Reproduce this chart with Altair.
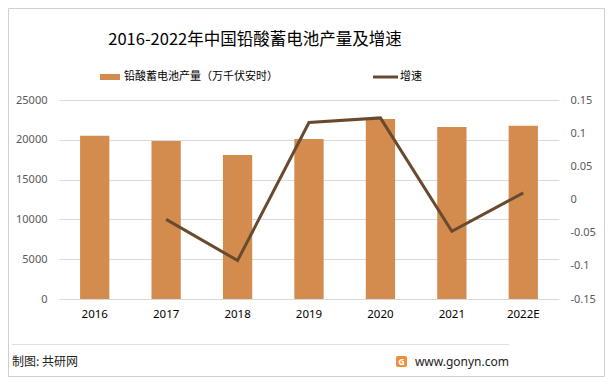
import altair as alt
import pandas as pd

years = ["2016", "2017", "2018", "2019", "2020", "2021", "2022E"]
output = [20500, 19850, 18100, 20100, 22600, 21600, 21750]
growth = [None, -0.03, -0.092, 0.116, 0.123, -0.048, 0.01]
left_ticks = [0, 5000, 10000, 15000, 20000, 25000]
right_ticks = [-0.15, -0.1, -0.05, 0, 0.05, 0.1, 0.15]

title_text = "2016-2022年中国铅酸蓄电池产量及增速"
bar_name = "铅酸蓄电池产量（万千伏安时）"
line_name = "增速"
source_text = "制图: 共研网"
site_text = "www.gonyn.com"

BAR = "#D38B4E"
LINE = "#694A2F"
CJK = "Noto Sans CJK SC"
NUM = "Noto Sans"

df = pd.DataFrame({"year": years, "output": output, "growth": growth})
one = pd.DataFrame({"k": [0]})

x = alt.X(
    "year:N", sort=years,
    scale=alt.Scale(paddingInner=0.59, paddingOuter=0.295),
    axis=alt.Axis(title=None, labelAngle=0, ticks=False, domain=False,
                  labelFontSize=11.5, labelColor="#000000", labelFont=NUM,
                  labelPadding=9),
)

bars = alt.Chart(df).mark_bar(color=BAR).encode(
    x=x,
    y=alt.Y("output:Q", scale=alt.Scale(domain=[0, 25000]),
            axis=alt.Axis(title=None, orient="left", values=left_ticks,
                          grid=True, gridColor="#d9d9d9", ticks=False,
                          domain=False, labelPadding=12, labelFontSize=11,
                          labelColor="#595959", labelFont=NUM,
                          labelExpr="toString(datum.value)")),
)

line = alt.Chart(df).mark_line(color=LINE, strokeWidth=3).encode(
    x=x,
    y=alt.Y("growth:Q", scale=alt.Scale(domain=[-0.15, 0.15]),
            axis=alt.Axis(title=None, orient="right", values=right_ticks,
                          grid=False, ticks=False, domain=False,
                          labelPadding=11, labelFontSize=11,
                          labelColor="#595959", labelFont=NUM,
                          labelExpr="toString(datum.value)")),
)

def txt(text, xv, yv, size, color="#000000", align="left", font=CJK, weight="normal"):
    return alt.Chart(one).mark_text(
        align=align, baseline="middle", fontSize=size, color=color,
        font=font, fontWeight=weight
    ).encode(x=alt.value(xv), y=alt.value(yv), text=alt.value(text))

frame = alt.Chart(one).mark_rect(fill=None, stroke="#d0d0d0", strokeWidth=1).encode(
    x=alt.value(-50.5), x2=alt.value(545.5), y=alt.value(-91.5), y2=alt.value(276.5))

leg_bar = alt.Chart(one).mark_rect(color=BAR).encode(
    x=alt.value(41), x2=alt.value(61), y=alt.value(-26), y2=alt.value(-20))
leg_line = alt.Chart(one).mark_rule(color=LINE, strokeWidth=3).encode(
    x=alt.value(314), x2=alt.value(339), y=alt.value(-23))

foot_rule = alt.Chart(one).mark_rule(color="#e0e0e0", strokeWidth=1).encode(
    x=alt.value(-47), x2=alt.value(450), y=alt.value(244.5))
logo = alt.Chart(one).mark_rect(color="#F08C3A", cornerRadius=2).encode(
    x=alt.value(337), x2=alt.value(348), y=alt.value(256), y2=alt.value(267))

layers = alt.layer(bars, line).resolve_scale(y="independent")

chart = alt.layer(
    frame, layers,
    txt(title_text, 196, -60, 16.5, align="center"),
    leg_bar, txt(bar_name, 65, -23, 11),
    leg_line, txt(line_name, 341, -23, 11),
    foot_rule,
    txt(source_text, -47, 262, 12, color="#222222"),
    logo, txt("G", 342.5, 261.5, 9, color="#ffffff", align="center", font=NUM, weight="bold"),
    txt(site_text, 450, 262, 12, color="#222222", align="right", font=NUM),
).properties(
    width=500, height=199,
    autosize="none",
    padding={"left": 51, "top": 92, "right": 46, "bottom": 78},
    background="white",
).configure_view(stroke=None)

chart.save("out.html", embed_options={"renderer": "svg", "actions": False})
